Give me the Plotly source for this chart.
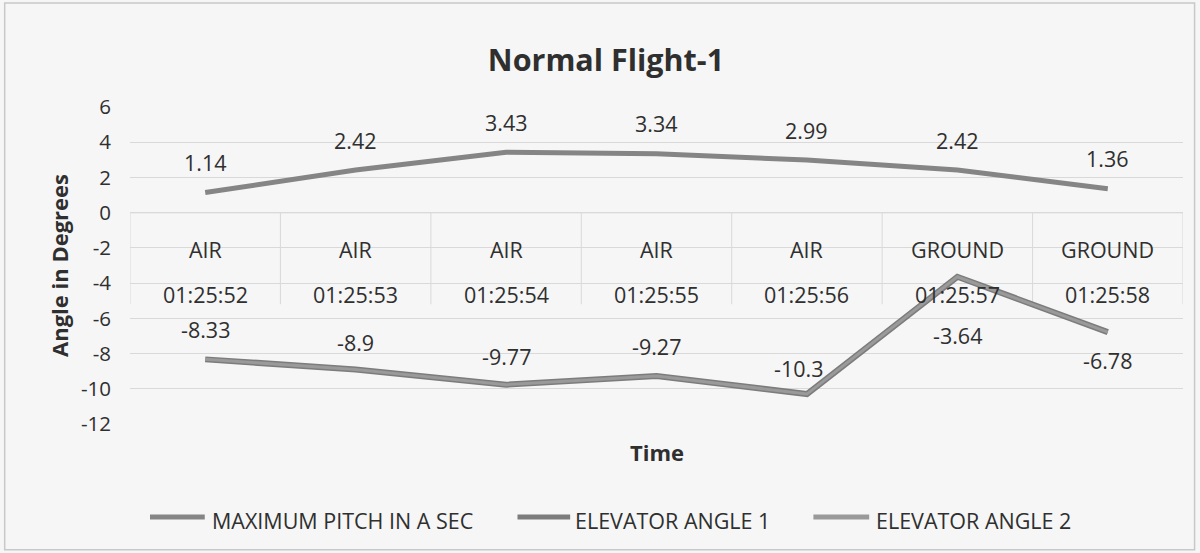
import plotly.graph_objects as go

# ---- data ----
times = ["01:25:52", "01:25:53", "01:25:54", "01:25:55", "01:25:56", "01:25:57", "01:25:58"]
phase = ["AIR", "AIR", "AIR", "AIR", "AIR", "GROUND", "GROUND"]
max_pitch = [1.14, 2.42, 3.43, 3.34, 2.99, 2.42, 1.36]
elevator_1 = [-8.33, -8.9, -9.77, -9.27, -10.3, -3.64, -6.78]
elevator_2 = [-8.33, -8.9, -9.77, -9.27, -10.3, -3.64, -6.78]
y_ticks = [6, 4, 2, 0, -2, -4, -6, -8, -10, -12]
series_names = ["MAXIMUM PITCH IN A SEC", "ELEVATOR ANGLE 1", "ELEVATOR ANGLE 2"]

# label placement style (pixel shifts for data labels of the elevator series)
elev_label_shift = [30, 27, 28, 29, 26, -59, -28]
elev_label_xshift = [0, 0, 0, 0, -8, 0, 0]

FONT = "Open Sans"
TXT = "#2f2f2f"
GRID = "#d9d9d9"
C_PITCH = "#858585"
C_E1 = "#7c7c7c"
C_E2 = "#9a9a9a"

idx = list(range(len(times)))

fig = go.Figure()
fig.add_trace(go.Scatter(x=idx, y=max_pitch, mode="lines", name=series_names[0],
                         line=dict(color=C_PITCH, width=5)))
fig.add_trace(go.Scatter(x=idx, y=elevator_1, mode="lines", name=series_names[1],
                         line=dict(color=C_E1, width=6)))
fig.add_trace(go.Scatter(x=idx, y=elevator_2, mode="lines", name=series_names[2],
                         line=dict(color=C_E2, width=3)))

LBL = dict(family=FONT, size=21.5, color=TXT)
ann = []
for i, v in enumerate(max_pitch):
    ann.append(dict(x=i, y=v, xref="x", yref="y", text=f"{v:g}", showarrow=False,
                    yanchor="middle", yshift=30, font=LBL))
for i, v in enumerate(elevator_1):
    ann.append(dict(x=i, y=v, xref="x", yref="y", text=f"{v:g}", showarrow=False,
                    yanchor="middle", yshift=elev_label_shift[i], xshift=elev_label_xshift[i],
                    font=LBL))
for i in idx:
    ann.append(dict(x=i, y=0, xref="x", yref="y", text=phase[i], showarrow=False,
                    yanchor="middle", yshift=-37, font=LBL))
    ann.append(dict(x=i, y=0, xref="x", yref="y", text=times[i], showarrow=False,
                    yanchor="middle", yshift=-82, font=LBL))
ann.append(dict(x=0.5, y=-0.088, xref="paper", yref="paper", text="<b>Time</b>", showarrow=False,
                yanchor="middle", font=dict(family=FONT, size=22, color=TXT)))

shapes = []
for i in range(len(times) + 1):
    shapes.append(dict(type="line", xref="x", yref="y", x0=i - 0.5, x1=i - 0.5, y0=0, y1=-5.2,
                       line=dict(color=GRID, width=1), layer="below"))
shapes.append(dict(type="line", xref="paper", yref="y", x0=0, x1=1, y0=0, y1=0,
                   line=dict(color="#cfcfcf", width=1.2), layer="below"))
shapes.append(dict(type="rect", xref="paper", yref="paper", x0=-0.119, x1=1.011, y0=-0.397, y1=1.328,
                   line=dict(color="#c8c8c8", width=1.5), layer="below"))

# manual legend (Excel-style long line samples)
leg_line_x = [(0.019, 0.071), (0.368, 0.418), (0.649, 0.702)]
leg_text_x = [0.076, 0.421, 0.7066]
leg_colors = [C_PITCH, C_E1, C_E2]
for (x0, x1), tx, c, nm in zip(leg_line_x, leg_text_x, leg_colors, series_names):
    shapes.append(dict(type="line", xref="paper", yref="paper", x0=x0, x1=x1, y0=-0.293, y1=-0.293,
                       line=dict(color=c, width=5)))
    ann.append(dict(x=tx, y=-0.303, xref="paper", yref="paper", text=nm, showarrow=False,
                    xanchor="left", yanchor="middle", font=LBL))

fig.update_layout(
    width=1200, height=553,
    paper_bgcolor="#f6f6f6", plot_bgcolor="rgba(0,0,0,0)",
    margin=dict(l=130, r=17, t=107, b=129),
    showlegend=False,
    title=dict(text="<b>Normal Flight-1</b>", x=0.505, xanchor="center", y=0.891, yanchor="middle",
               font=dict(family=FONT, size=30.5, color=TXT)),
    xaxis=dict(range=[-0.5, len(times) - 0.5], showticklabels=False, showgrid=False,
               zeroline=False, showline=False, fixedrange=True),
    yaxis=dict(range=[-12, 6], tickvals=y_ticks, ticktext=[str(t) for t in y_ticks],
               showgrid=True, gridcolor=GRID, gridwidth=1, zeroline=False, showline=False,
               ticks="", ticklabelstandoff=18,
               tickfont=dict(family=FONT, size=20.5, color=TXT),
               title=dict(text="<b>Angle in Degrees</b>", standoff=6,
                          font=dict(family=FONT, size=22, color=TXT))),
    annotations=ann, shapes=shapes,
)

fig.write_html("out.html", config={"displayModeBar": False},
               post_script="document.body.style.margin='0';")
